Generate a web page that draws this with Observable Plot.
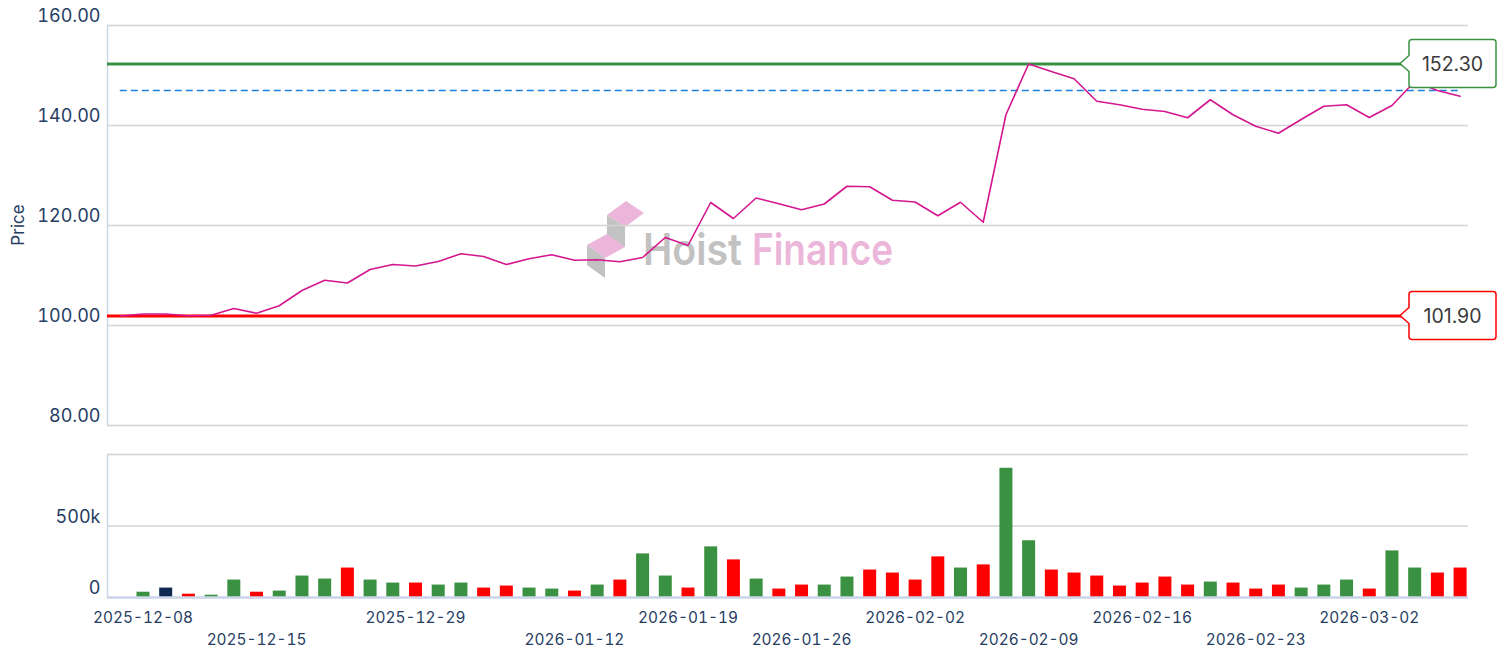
<!DOCTYPE html>
<html><head><meta charset="utf-8">
<script src="https://cdn.jsdelivr.net/npm/d3@7"></script>
<script src="https://cdn.jsdelivr.net/npm/@observablehq/plot@0.6"></script>
<style>
body{margin:0;background:#fff;font-family:Inter,sans-serif}
#chart{width:1508px;height:652px;position:relative;overflow:hidden}
#chart svg{display:block}
</style></head><body><div id="chart"></div>
<script>
// ---- data ----
const dates = ["2025-12-05","2025-12-08","2025-12-09","2025-12-10","2025-12-11","2025-12-12",
"2025-12-15","2025-12-16","2025-12-17","2025-12-18","2025-12-19","2025-12-22","2025-12-23",
"2025-12-29","2025-12-30","2026-01-02","2026-01-05","2026-01-07","2026-01-08","2026-01-09",
"2026-01-12","2026-01-13","2026-01-14","2026-01-15","2026-01-16","2026-01-19","2026-01-20","2026-01-21","2026-01-22","2026-01-23",
"2026-01-26","2026-01-27","2026-01-28","2026-01-29","2026-01-30","2026-02-02","2026-02-03","2026-02-04","2026-02-05","2026-02-06",
"2026-02-09","2026-02-10","2026-02-11","2026-02-12","2026-02-13","2026-02-16","2026-02-17","2026-02-18","2026-02-19","2026-02-20",
"2026-02-23","2026-02-24","2026-02-25","2026-02-26","2026-02-27","2026-03-02","2026-03-03","2026-03-04","2026-03-05","2026-03-06"];
const close = [101.9,102.3,102.3,101.95,102.05,103.4,
102.45,103.95,107.0,109.05,108.5,111.2,112.2,
111.9,112.8,114.35,113.8,112.2,113.35,114.15,
113.05,113.15,112.75,113.6,117.6,116.0,124.6,121.4,125.5,124.35,
123.15,124.3,127.85,127.75,125.05,124.7,121.95,124.65,120.65,142.15,
152.3,150.8,149.35,144.85,144.15,143.25,142.8,141.55,145.15,142.15,
139.85,138.45,141.2,143.85,144.15,141.6,144.0,148.8,147.0,145.85];
const volume = [null,37000,66000,23000,16000,122000,
37000,45000,150000,129000,206000,122000,101000,
101000,87000,101000,66000,80000,66000,59000,
45000,87000,122000,305000,150000,66000,354000,263000,129000,59000,
87000,87000,143000,192000,171000,122000,284000,206000,228000,904000,
397000,192000,171000,150000,80000,101000,143000,87000,108000,101000,
59000,87000,66000,87000,122000,59000,326000,206000,171000,206000];
const levelValues = [152.3, 101.9];
const levelLabels = ["152.30", "101.90"];
const refValue = [147];
const priceTicks = [80, 100, 120, 140, 160];
const volumeTicks = [0, 500000];
const volumeGrid = [0, 500000, 1000000];
const tickRow1 = ["2025-12-08","2025-12-29","2026-01-19","2026-02-02","2026-02-16","2026-03-02"];
const tickRow2 = ["2025-12-15","2026-01-12","2026-01-26","2026-02-09","2026-02-23"];

// ---- derived table ----
const rows = dates.map((d, i) => ({
  i, date: d, close: close[i], volume: volume[i],
  dir: i === 0 ? null : close[i] > close[i-1] ? "up" : close[i] < close[i-1] ? "down" : "flat"
}));

const GREEN = "#3b9142", RED = "#ff0000", NAVY = "#0e2a52";
const levelColors = [GREEN, RED];
const xScale = {type: "linear", domain: [-0.563, 59.37], axis: null, label: null};
const TXT = "#263d63";

function watermark(index, scales, values, dims) {
  const cx = (dims.marginLeft + dims.width - dims.marginRight) / 2;
  const cy = (dims.marginTop + dims.height - dims.marginBottom) / 2;
  const g = d3.create("svg:g").attr("transform", `translate(${cx - 200.5},${cy + 40})`);
  const pink = "#ecb6da", gray = "#c2c2c2";
  const polys = [
    [[20,-50],[39,-64],[57,-52],[38,-38], pink],
    [[20,-50],[38,-38],[38,-18],[20,-30], gray],
    [[0,-20],[20,-31],[38,-18],[18,-7], pink],
    [[0,-20],[18,-7],[18,13],[0,0], gray]
  ];
  polys.forEach(p => g.append("polygon").attr("points", p.slice(0,4).map(q => q.join(",")).join(" ")).attr("fill", p[4]));
  g.append("text").attr("x", 56).attr("y", 0).attr("font-size", 44).attr("font-weight", 600).attr("text-anchor", "start")
    .attr("textLength", 99).attr("lengthAdjust", "spacingAndGlyphs").attr("fill", gray).text("Hoist");
  g.append("text").attr("x", 165).attr("y", 0).attr("font-size", 44).attr("font-weight", 600).attr("text-anchor", "start")
    .attr("textLength", 141).attr("lengthAdjust", "spacingAndGlyphs").attr("fill", pink).text("Finance");
  return g.node();
}

function callouts(index, scales, values, dims) {
  const g = d3.create("svg:g");
  const right = dims.width - dims.marginRight;
  levelValues.forEach((v, k) => {
    const y = scales.y(v);
    const tip = right - 68, bx = tip + 9, bw = 87, bh = 48, r = 3;
    const t0 = y - bh / 2, b0 = y + bh / 2;
    const p = `M${tip},${y}L${bx},${y-8}V${t0+r}Q${bx},${t0} ${bx+r},${t0}H${bx+bw-r}Q${bx+bw},${t0} ${bx+bw},${t0+r}V${b0-r}Q${bx+bw},${b0} ${bx+bw-r},${b0}H${bx+r}Q${bx},${b0} ${bx},${b0-r}V${y+8}Z`;
    g.append("path").attr("d", p).attr("fill", "#fff").attr("stroke", levelColors[k]).attr("stroke-width", 1.5);
    g.append("text").attr("x", bx + bw / 2).attr("y", y).attr("dy", "0.36em").attr("text-anchor", "middle")
      .attr("font-size", 19.5).attr("fill", "#3a3a3a").text(levelLabels[k]);
  });
  return g.node();
}

const plotStyle = {fontFamily: "Inter, sans-serif", color: TXT, background: "transparent", overflow: "visible"};

const pricePlot = Plot.plot({
  width: 1508, height: 440,
  marginLeft: 107, marginRight: 40, marginTop: 25, marginBottom: 15,
  style: plotStyle,
  x: xScale,
  y: {domain: [80, 160], label: null},
  marks: [
    watermark,
    Plot.gridY(priceTicks, {stroke: "#d3d3d3", strokeOpacity: 1, strokeWidth: 1.5}),
    Plot.frame({anchor: "left", stroke: "#ccd6eb", strokeWidth: 1.5}),
    Plot.axisY(priceTicks, {tickFormat: d => d.toFixed(2), tickSize: 0, tickPadding: 7, dy: -9, fontSize: 18,
      label: null}),
    Plot.ruleY(refValue, {x1: () => 0, x2: () => dates.length - 1, stroke: "#1a7fe0", strokeWidth: 1.5, strokeDasharray: "7,4"}),
    Plot.ruleY(levelValues, {stroke: (d, k) => levelColors[k], strokeWidth: 3}),
    Plot.line(rows, {x: "i", y: "close", stroke: "#d4168f", strokeWidth: 1.6, clip: true}),
    callouts
  ]
});

const volumePlot = Plot.plot({
  width: 1508, height: 212,
  marginLeft: 107, marginRight: 40, marginTop: 14, marginBottom: 55,
  style: plotStyle,
  x: xScale,
  y: {domain: [0, 1000000], label: null},
  color: {domain: ["up", "down", "flat"], range: [GREEN, RED, NAVY]},
  marks: [
    Plot.gridY(volumeGrid, {stroke: "#d3d3d3", strokeOpacity: 1, strokeWidth: 1.5}),
    Plot.frame({anchor: "left", stroke: "#ccd6eb", strokeWidth: 1.5}),
    Plot.axisY(volumeTicks, {tickFormat: d => d === 0 ? "0" : d / 1000 + "k", tickSize: 0, tickPadding: 7, dy: -9, fontSize: 18, label: null}),
    Plot.ruleX(rows.filter(r => r.volume != null), {x: "i", y1: 0, y2: "volume", stroke: "dir", strokeWidth: 13}),
    Plot.ruleY([0], {stroke: "#ccd6eb", strokeWidth: 2.5}),
    Plot.axisX(tickRow1.map(d => dates.indexOf(d)), {tickFormat: i => dates[i], tickSize: 0, tickPadding: 15, fontSize: 15.4, label: null}),
    Plot.axisX(tickRow2.map(d => dates.indexOf(d)), {tickFormat: i => dates[i], tickSize: 0, tickPadding: 37, fontSize: 15.4, label: null})
  ]
});

const chart = document.getElementById("chart");
chart.append(pricePlot, volumePlot);
d3.select(pricePlot).append("text")
  .attr("transform", "translate(24,225) rotate(-90)")
  .attr("text-anchor", "middle").attr("font-size", 17).attr("fill", TXT).text("Price");
</script></body></html>
